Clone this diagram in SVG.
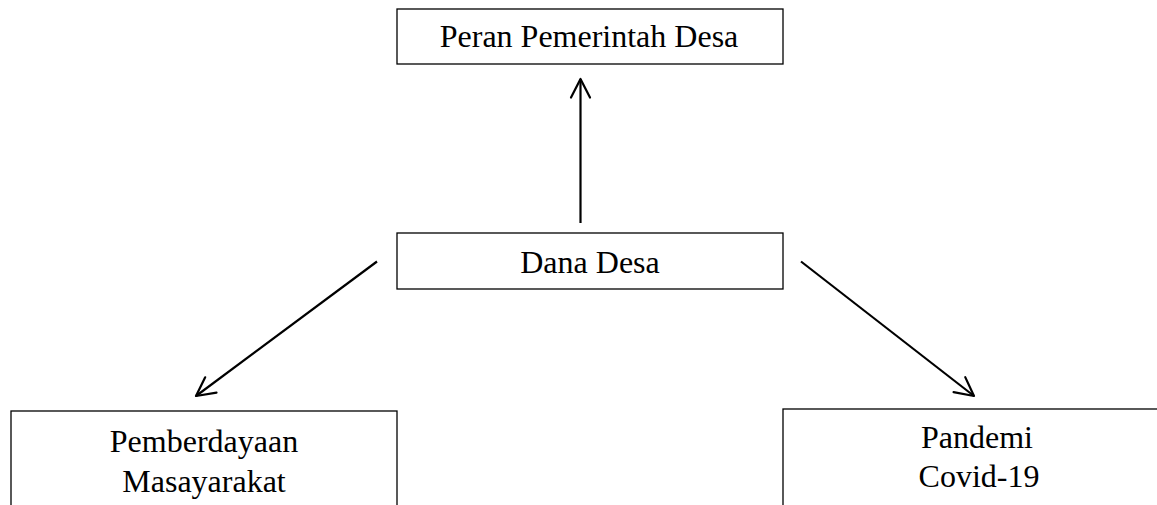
<svg xmlns="http://www.w3.org/2000/svg" width="1157" height="505" viewBox="0 0 1157 505">
<style>
.box{fill:#fff;stroke:#000;stroke-width:1.3}
.t{font-family:"Liberation Serif","Times New Roman",serif;font-size:32px;fill:#000;text-anchor:middle}
.c{fill:none;stroke:#000;stroke-width:2.2;marker-end:url(#ah)}
</style>
<defs>
<marker id="ah" markerUnits="userSpaceOnUse" markerWidth="30" markerHeight="30" viewBox="-25 -15 30 30" refX="0" refY="0" orient="auto">
<path d="M-18.5,-9.5 L0,0 L-18.5,9.5" fill="none" stroke="#000" stroke-width="2.2" stroke-linecap="round" stroke-linejoin="round"/>
</marker>
</defs>
<rect width="1157" height="505" fill="#fff"/>
<g id="node-peran">
<rect class="box" x="397" y="9" width="386" height="55"/>
<text class="t" x="589" y="47">Peran Pemerintah Desa</text>
</g>
<g id="node-dana">
<rect class="box" x="397" y="233" width="386" height="56"/>
<text class="t" x="590" y="273">Dana Desa</text>
</g>
<g id="node-pemberdayaan">
<rect class="box" x="11" y="411" width="386" height="110"/>
<text class="t" x="204" y="452">Pemberdayaan</text>
<text class="t" x="204" y="492">Masayarakat</text>
</g>
<g id="node-pandemi">
<rect class="box" x="783" y="409" width="390" height="110"/>
<text class="t" x="977" y="448">Pandemi</text>
<text class="t" x="979" y="487">Covid-19</text>
</g>
<g id="connectors">
<line class="c" x1="580.5" y1="223" x2="580.5" y2="79"/>
<line class="c" x1="377" y1="261.5" x2="196" y2="396"/>
<line class="c" x1="801" y1="261.5" x2="974" y2="396"/>
</g>
</svg>
